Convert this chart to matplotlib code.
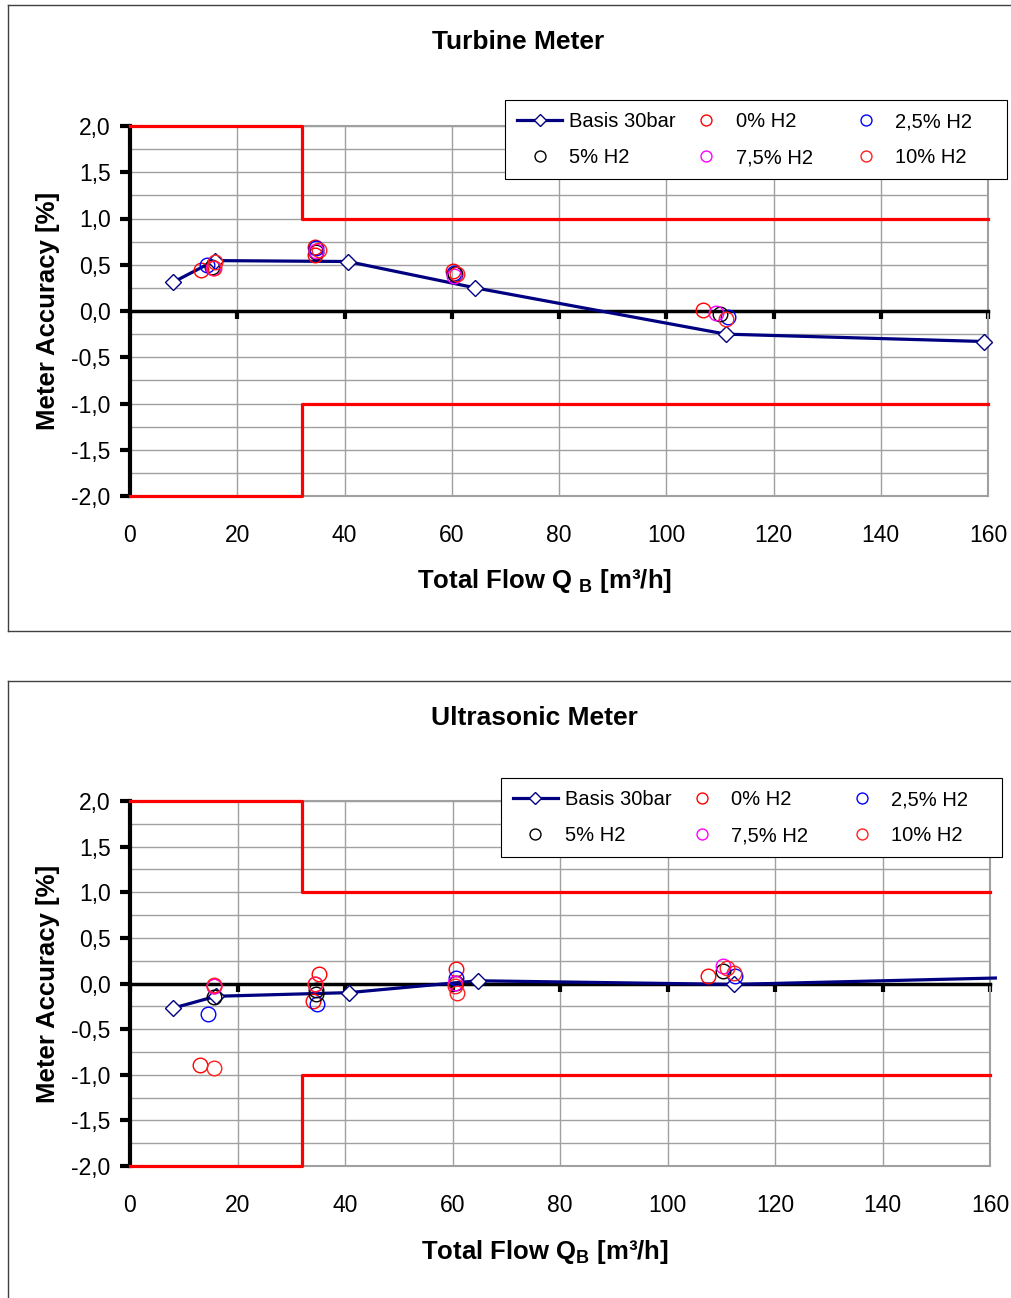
import numpy as np
import matplotlib.pyplot as plt
from matplotlib.lines import Line2D

plt.rcParams['font.family'] = ['Liberation Sans', 'DejaVu Sans']
plt.rcParams['mathtext.fontset'] = 'custom'
plt.rcParams['mathtext.rm'] = 'Liberation Sans:bold'
plt.rcParams['mathtext.bf'] = 'Liberation Sans:bold'

# limit curves (max permissible error)
limit_x = [0, 32, 32, 160]
limit_up = [2, 2, 1, 1]
limit_lo = [-2, -2, -1, -1]

# turbine meter
tur_basis_x = [8.0, 15.8, 40.6, 64.4, 111.1, 159.3]
tur_basis_y = [0.31, 0.545, 0.535, 0.25, -0.25, -0.33]
tur_h0_x = [13.2, 34.5, 34.5, 60.2, 106.8]
tur_h0_y = [0.44, 0.61, 0.69, 0.43, 0.01]
tur_h25_x = [14.4, 34.7, 60.5, 111.6]
tur_h25_y = [0.50, 0.68, 0.41, -0.07]
tur_h5_x = [15.2, 34.6, 60.6, 110.0]
tur_h5_y = [0.48, 0.64, 0.40, -0.03]
tur_h75_x = [15.4, 34.6, 60.5, 109.2]
tur_h75_y = [0.47, 0.65, 0.38, -0.02]
tur_h10_x = [15.8, 15.6, 35.2, 60.9, 111.1]
tur_h10_y = [0.53, 0.46, 0.66, 0.40, -0.09]

# ultrasonic meter
us_basis_x = [8.0, 16.0, 40.7, 64.7, 112.3, 161.0]
us_basis_y = [-0.27, -0.14, -0.10, 0.03, -0.01, 0.06]
us_h0_x = [13.0, 15.6, 35.2, 34.1, 60.7, 107.6]
us_h0_y = [-0.89, -0.03, 0.10, -0.19, 0.155, 0.08]
us_h25_x = [14.5, 34.7, 60.7, 112.5]
us_h25_y = [-0.33, -0.22, 0.06, 0.08]
us_h5_x = [15.6, 34.6, 34.6, 60.7, 110.3]
us_h5_y = [-0.15, -0.07, -0.12, 0.01, 0.135]
us_h75_x = [15.6, 34.4, 60.4, 110.3]
us_h75_y = [-0.03, -0.01, 0.01, 0.19]
us_h10_x = [15.7, 15.7, 34.4, 60.4, 60.8, 111.0, 112.4]
us_h10_y = [-0.93, -0.015, -0.01, -0.03, -0.10, 0.17, 0.12]

W, H = 1011, 1298
fig = plt.figure(figsize=(W / 100, H / 100), dpi=100)


def fx(px):
    return px / W


def fy(py):
    return 1 - py / H


def panel(rect, title, title_xy, xlabel, xlabel_y, basis, series, leg_anchor, markevery):
    ax = fig.add_axes(rect)
    ax.set_xlim(0, 160)
    ax.set_ylim(-2, 2)
    ax.set_yticks(np.arange(-2, 2.01, 0.25), minor=True)
    ax.set_yticks(np.arange(-2, 2.01, 0.5))
    ax.set_yticklabels([('%.1f' % v).replace('.', ',') for v in np.arange(-2, 2.01, 0.5)])
    ax.set_xticks(np.arange(0, 161, 20))
    ax.grid(True, which='both', color='#a0a0a0', lw=1)
    ax.set_axisbelow(True)
    ax.tick_params(axis='y', which='major', length=7, width=3, labelsize=16.5, pad=7)
    ax.tick_params(axis='y', which='minor', length=0)
    ax.tick_params(axis='x', length=6, width=3, labelbottom=False, direction='out')
    ax.spines['left'].set_linewidth(3)
    ax.spines['bottom'].set_position(('data', 0))
    ax.spines['bottom'].set_linewidth(2.5)
    ax.spines['bottom'].set_zorder(2.5)
    for s in ['top', 'right']:
        ax.spines[s].set_color('#a0a0a0')
        ax.spines[s].set_linewidth(1.5)
    sec = ax.secondary_xaxis('bottom')
    sec.set_xticks(np.arange(0, 161, 20))
    sec.tick_params(length=0, labelsize=16.5, pad=20)
    sec.spines['bottom'].set_color('#a0a0a0')
    sec.spines['bottom'].set_linewidth(1.5)

    ax.plot(limit_x, limit_up, color='red', lw=2.3, clip_on=False, zorder=3)
    ax.plot(limit_x, limit_lo, color='red', lw=2.3, clip_on=False, zorder=3)

    bx, by = basis
    h_basis, = ax.plot(bx, by, color='#000080', lw=2.3, marker='D', ms=8,
                       mfc='white', mec='#000080', mew=1, zorder=4,
                       label='Basis 30bar', clip_on=False, markevery=markevery)
    handles = {}
    for (sx, sy, col, lab) in series:
        h, = ax.plot(sx, sy, ls='none', marker='o', ms=10.5, mfc='none',
                     mec=col, mew=1, zorder=5, label=lab)
        handles[lab] = h
    order = [h_basis, handles['5% H2'], handles['0% H2'], handles['7,5% H2'],
             handles['2,5% H2'], handles['10% H2']]
    # Excel keeps the legend columns equally wide; pad the shorter columns
    labels = ['Basis 30bar', '5% H2', '0% H2', '7,5% H2' + ' ' * 4,
              '2,5% H2' + ' ' * 4, '10% H2']
    leg = ax.legend(order, labels, loc='upper left', bbox_to_anchor=leg_anchor,
                    ncol=3, fontsize=14.5, frameon=True, fancybox=False,
                    edgecolor='black', framealpha=1, markerscale=0.75,
                    handlelength=2.25, handletextpad=0.33, columnspacing=0.4,
                    labelspacing=0.85, borderpad=0.6, borderaxespad=0)
    leg.get_frame().set_linewidth(0.8)
    leg.set_zorder(10)

    ax.set_ylabel('Meter Accuracy [%]', fontsize=18.5, fontweight='bold', labelpad=8)
    fig.text(title_xy[0], title_xy[1], title, fontsize=19, fontweight='bold',
             ha='center', va='center')
    fig.text(fx(545), fy(xlabel_y), xlabel, fontsize=18.5, fontweight='bold',
             ha='center', va='center')
    return ax


# panel frames
fig.add_artist(Line2D([fx(8), fx(8)], [fy(5), fy(631)], color='#404040', lw=1))
fig.add_artist(Line2D([fx(8), 1], [fy(5), fy(5)], color='#404040', lw=1))
fig.add_artist(Line2D([fx(8), 1], [fy(631), fy(631)], color='#404040', lw=1))
fig.add_artist(Line2D([fx(8), fx(8)], [fy(681), 0], color='#404040', lw=1))
fig.add_artist(Line2D([fx(8), 1], [fy(681), fy(681)], color='#404040', lw=1))

panel([fx(130), fy(496), fx(858), 370 / H], 'Turbine Meter', (fx(518), fy(42)),
      r'Total Flow Q $_{\mathbf{B}}$ [m³/h]', 581,
      (tur_basis_x, tur_basis_y),
      [(tur_h0_x, tur_h0_y, '#ff0000', '0% H2'),
       (tur_h25_x, tur_h25_y, '#0000ff', '2,5% H2'),
       (tur_h5_x, tur_h5_y, 'black', '5% H2'),
       (tur_h75_x, tur_h75_y, '#ff00ff', '7,5% H2'),
       (tur_h10_x, tur_h10_y, '#ff2020', '10% H2')],
      (0.437, 1.07), None)

panel([fx(130), fy(1166), fx(860), 365 / H], 'Ultrasonic Meter', (fx(534), fy(718)),
      r'Total Flow Q$_{\mathbf{B}}$ [m³/h]', 1252,
      (us_basis_x, us_basis_y),
      [(us_h0_x, us_h0_y, '#ff0000', '0% H2'),
       (us_h25_x, us_h25_y, '#0000ff', '2,5% H2'),
       (us_h5_x, us_h5_y, 'black', '5% H2'),
       (us_h75_x, us_h75_y, '#ff00ff', '7,5% H2'),
       (us_h10_x, us_h10_y, '#ff2020', '10% H2')],
      (0.431, 1.063), slice(0, 5))

fig.savefig('out.png', dpi=100)
